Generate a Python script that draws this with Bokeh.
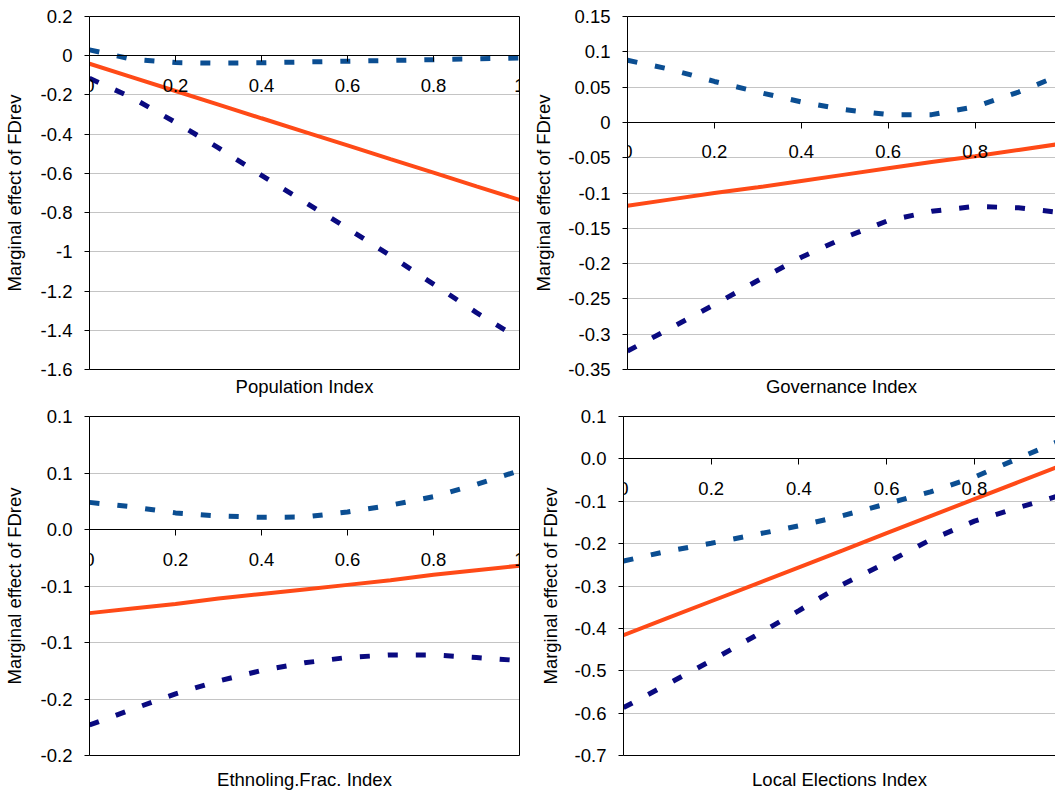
from bokeh.plotting import figure
from bokeh.models import LinearAxis, FixedTicker, Range1d
from bokeh.layouts import column, row
from bokeh.embed import file_html
from bokeh.resources import INLINE

# ---------------- data ----------------
x_vals = [0.0, 0.1, 0.2, 0.3, 0.4, 0.5, 0.6, 0.7, 0.8, 0.9, 1.0]

pop_est = [-0.041, -0.110, -0.180, -0.249, -0.319, -0.388, -0.457, -0.527, -0.596, -0.666, -0.735]
pop_upper = [0.030, -0.018, -0.035, -0.038, -0.036, -0.032, -0.028, -0.024, -0.020, -0.016, -0.012]
pop_lower = [-0.115, -0.215, -0.340, -0.470, -0.610, -0.745, -0.880, -1.020, -1.165, -1.310, -1.443]

gov_est = [-0.118, -0.109, -0.100, -0.092, -0.083, -0.074, -0.065, -0.056, -0.048, -0.039, -0.030]
gov_upper = [0.088, 0.075, 0.058, 0.043, 0.029, 0.018, 0.011, 0.011, 0.022, 0.043, 0.068]
gov_lower = [-0.324, -0.291, -0.258, -0.224, -0.191, -0.163, -0.139, -0.126, -0.119, -0.121, -0.128]

eth_est = [-0.074, -0.070, -0.066, -0.061, -0.057, -0.053, -0.049, -0.045, -0.040, -0.036, -0.032]
eth_upper = [0.024, 0.020, 0.0147, 0.012, 0.0108, 0.011, 0.0155, 0.0215, 0.029, 0.040, 0.052]
eth_lower = [-0.173, -0.159, -0.1455, -0.134, -0.1248, -0.118, -0.1132, -0.111, -0.111, -0.1133, -0.116]

loc_est = [-0.416, -0.376, -0.336, -0.296, -0.256, -0.216, -0.175, -0.135, -0.095, -0.055, -0.015]
loc_upper = [-0.241, -0.218, -0.199, -0.179, -0.158, -0.134, -0.106, -0.078, -0.043, 0.001, 0.045]
loc_lower = [-0.587, -0.532, -0.476, -0.418, -0.358, -0.296, -0.245, -0.191, -0.147, -0.115, -0.085]

x_ticks = [0.0, 0.2, 0.4, 0.6, 0.8, 1.0]
x_tick_labels = ["0", "0.2", "0.4", "0.6", "0.8", "1"]

pop_yticks = [0.2, 0.0, -0.2, -0.4, -0.6, -0.8, -1.0, -1.2, -1.4, -1.6]
pop_ylabels = ["0.2", "0", "-0.2", "-0.4", "-0.6", "-0.8", "-1", "-1.2", "-1.4", "-1.6"]

gov_yticks = [0.15, 0.1, 0.05, 0.0, -0.05, -0.1, -0.15, -0.2, -0.25, -0.3, -0.35]
gov_ylabels = ["0.15", "0.1", "0.05", "0", "-0.05", "-0.1", "-0.15", "-0.2", "-0.25", "-0.3", "-0.35"]

eth_yticks = [0.1, 0.05, 0.0, -0.05, -0.1, -0.15, -0.2]
eth_ylabels = ["0.1", "0.1", "0.0", "-0.1", "-0.1", "-0.2", "-0.2"]

loc_yticks = [0.1, 0.0, -0.1, -0.2, -0.3, -0.4, -0.5, -0.6, -0.7]
loc_ylabels = ["0.1", "0.0", "-0.1", "-0.2", "-0.3", "-0.4", "-0.5", "-0.6", "-0.7"]

y_title = "Marginal effect of FDrev"
x_titles = ["Population Index", "Governance Index", "Ethnoling.Frac. Index", "Local Elections Index"]

# ---------------- style ----------------
FONT = "Liberation Sans"
TICK_SIZE = "18.5px"
TITLE_SIZE = "18.5px"
EST_COLOR = "#ff4a17"
UP_COLOR = "#0b4e92"
LOW_COLOR = "#0a0a80"
GRID_COLOR = "#c4c4c4"
DASH = "10 18"


def make_panel(est, upper, lower, yticks, ylabels, xtitle, yrange, xend,
               width, height, left, right, top, bottom, title_standoff,
               ytitle_standoff, right_border):
    p = figure(width=width, height=height,
               x_range=Range1d(0, xend), y_range=Range1d(*yrange),
               output_backend="svg", toolbar_location=None,
               x_axis_location=None, y_axis_location="left",
               min_border_left=left, min_border_right=right,
               min_border_top=top, min_border_bottom=bottom)
    p.outline_line_color = None
    p.background_fill_color = "white"
    p.border_fill_color = "white"

    # y axis
    ya = p.yaxis[0]
    ya.ticker = FixedTicker(ticks=yticks)
    ya.major_label_overrides = dict(zip(yticks, ylabels))
    ya.major_tick_out = 5
    ya.major_tick_in = 0
    ya.minor_tick_line_color = None
    ya.axis_line_color = "black"
    ya.major_tick_line_color = "black"
    ya.major_label_standoff = 12
    ya.major_label_text_font = FONT
    ya.major_label_text_font_size = TICK_SIZE
    ya.major_label_text_color = "black"
    ya.axis_label = y_title
    ya.axis_label_standoff = ytitle_standoff
    ya.axis_label_text_font = FONT
    ya.axis_label_text_font_size = TITLE_SIZE
    ya.axis_label_text_font_style = "normal"
    ya.axis_label_text_color = "black"

    p.ygrid.ticker = FixedTicker(ticks=yticks)
    p.ygrid.grid_line_color = GRID_COLOR
    p.ygrid.grid_line_width = 1
    p.xgrid.grid_line_color = None

    # x axis through zero with tick labels
    xa0 = LinearAxis(fixed_location=0, ticker=FixedTicker(ticks=x_ticks),
                     major_label_overrides=dict(zip(x_ticks, x_tick_labels)),
                     major_tick_out=6, major_tick_in=0,
                     minor_tick_line_color=None,
                     axis_line_color="black", major_tick_line_color="black",
                     major_label_standoff=17,
                     major_label_text_font=FONT,
                     major_label_text_font_size=TICK_SIZE,
                     major_label_text_color="black")
    p.add_layout(xa0, "below")

    # bottom border carrying the x title
    xb = LinearAxis(ticker=FixedTicker(ticks=[]), axis_label=xtitle,
                    major_tick_out=0, major_tick_in=0, minor_tick_line_color=None,
                    major_label_standoff=0, axis_line_color="black",
                    axis_label_standoff=title_standoff,
                    axis_label_text_font=FONT, axis_label_text_font_size=TITLE_SIZE,
                    axis_label_text_font_style="normal", axis_label_text_color="black")
    p.add_layout(xb, "below")

    # top border
    xt = LinearAxis(ticker=FixedTicker(ticks=[]), major_tick_out=0, major_tick_in=0,
                    minor_tick_line_color=None, major_label_standoff=0,
                    axis_line_color="black")
    p.add_layout(xt, "above")

    if right_border:
        yr = LinearAxis(ticker=FixedTicker(ticks=[]), major_tick_out=0, major_tick_in=0,
                        minor_tick_line_color=None, major_label_standoff=0,
                        axis_line_color="black")
        p.add_layout(yr, "right")

    p.line(x_vals, upper, line_color=UP_COLOR, line_width=5, line_dash=DASH)
    p.line(x_vals, lower, line_color=LOW_COLOR, line_width=5, line_dash=DASH)
    p.line(x_vals, est, line_color=EST_COLOR, line_width=4)
    return p


p1 = make_panel(pop_est, pop_upper, pop_lower, pop_yticks, pop_ylabels, x_titles[0],
                (-1.6, 0.2), 1.0, 530, 400, 88, 11, 16, 31, 6, 13, True)
p2 = make_panel(gov_est, gov_upper, gov_lower, gov_yticks, gov_ylabels, x_titles[1],
                (-0.35, 0.15), 0.985, 525, 400, 93, 0, 16, 31, 6, 11, False)
p3 = make_panel(eth_est, eth_upper, eth_lower, eth_yticks, eth_ylabels, x_titles[2],
                (-0.2, 0.1), 1.0, 530, 392, 88, 11, 16, 37, 13, 13, True)
p4 = make_panel(loc_est, loc_upper, loc_lower, loc_yticks, loc_ylabels, x_titles[3],
                (-0.7, 0.1), 0.985, 525, 392, 93, 0, 16, 37, 13, 11, False)

layout = column(row(p1, p2), row(p3, p4))

open("out.html", "w").write(file_html(layout, INLINE))
